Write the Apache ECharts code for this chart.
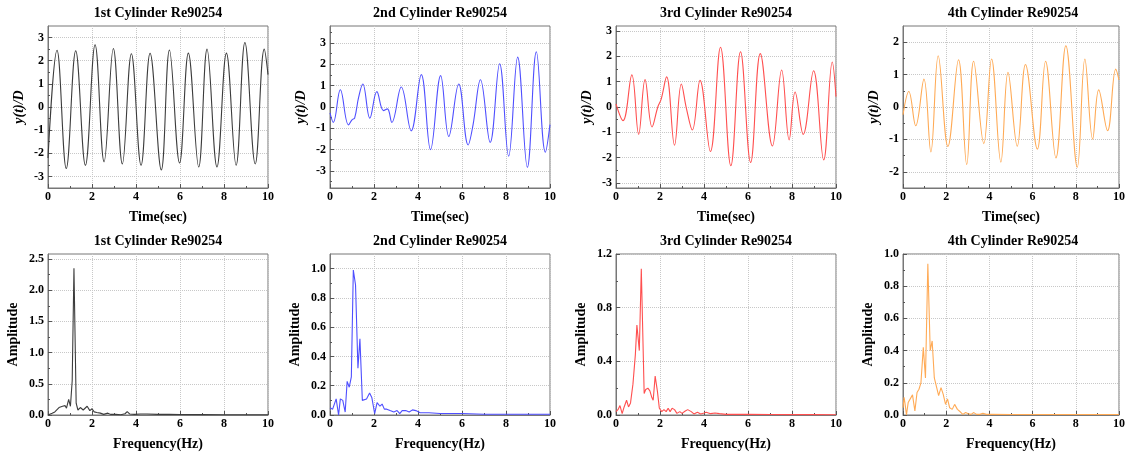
<!DOCTYPE html>
<html>
<head>
<meta charset="utf-8">
<script src="https://cdn.jsdelivr.net/npm/echarts@6/dist/echarts.min.js"></script>
<style>html,body{margin:0;padding:0;background:#fff}#c{width:1128px;height:456px}</style>
</head>
<body>
<div id="c"></div>
<script>
const titles = ['1st Cylinder Re90254', '2nd Cylinder Re90254', '3rd Cylinder Re90254', '4th Cylinder Re90254'];
const xTicks = [0, 2, 4, 6, 8, 10];

// time histories (extrema / shape points)
const t1 = [0, 0.41, 0.83, 1.26, 1.70, 2.14, 2.55, 2.97, 3.38, 3.79, 4.23, 4.64, 5.15, 5.52, 5.98, 6.38, 6.85, 7.23, 7.68, 8.11, 8.55, 8.95, 9.42, 9.83, 10];
const y1 = [-2.2, 2.45, -2.66, 2.43, -2.52, 2.69, -2.37, 2.53, -2.46, 2.30, -2.52, 2.32, -2.72, 2.46, -2.42, 2.33, -2.59, 2.50, -2.59, 2.33, -2.52, 2.79, -2.46, 2.50, 1.4];

const t2 = [0, 0.15, 0.47, 0.84, 1.0, 1.12, 1.3, 1.49, 1.81, 2.13, 2.43, 2.61, 2.81, 3.24, 3.69, 4.15, 4.57, 5.03, 5.40, 5.85, 6.28, 6.5, 6.84, 7.28, 7.71, 8.12, 8.53, 8.97, 9.38, 9.79, 10];
const y2 = [-0.28, -0.72, 0.81, -0.84, -0.6, -0.52, 0.45, 1.08, -0.52, 0.72, -0.17, -0.09, -0.72, 0.94, -1.12, 1.52, -2.0, 1.47, -1.38, 1.08, -1.78, -0.85, 1.28, -1.66, 2.03, -2.31, 2.34, -2.83, 2.59, -2.12, -0.83];

const t3 = [0, 0.32, 0.72, 1.03, 1.32, 1.64, 1.9, 2.05, 2.30, 2.66, 2.97, 3.2, 3.47, 3.82, 4.29, 4.75, 5.22, 5.66, 6.12, 6.56, 7.11, 7.53, 7.87, 8.14, 8.51, 8.98, 9.44, 9.83, 10];
const y3 = [0.12, -0.54, 1.27, -1.08, 1.08, -0.79, 0.0, 0.3, 1.19, -1.51, 0.91, -0.05, -0.91, 1.05, -1.76, 2.36, -2.32, 2.18, -2.19, 2.11, -1.54, 1.46, -1.3, 0.59, -1.08, 1.43, -2.09, 1.78, 0.41];

const t4 = [0, 0.27, 0.59, 0.97, 1.29, 1.63, 2.08, 2.57, 2.95, 3.27, 3.74, 4.10, 4.53, 4.86, 5.29, 5.67, 6.22, 6.60, 7.08, 7.54, 8.07, 8.42, 8.78, 9.06, 9.47, 9.85, 10];
const y4 = [-0.24, 0.48, -0.58, 0.86, -1.39, 1.58, -1.22, 1.46, -1.78, 1.41, -1.13, 1.48, -1.70, 1.07, -1.21, 1.31, -1.30, 1.41, -1.57, 1.89, -1.86, 1.48, -0.99, 0.53, -0.73, 1.17, 0.84];

// amplitude spectra
const f1 = [0, 0.19, 0.31, 0.39, 0.5, 0.66, 0.78, 0.84, 0.94, 1.02, 1.1, 1.18, 1.28, 1.36, 1.47, 1.6, 1.69, 1.78, 1.9, 2.0, 2.1, 2.22, 2.38, 2.53, 2.72, 2.84, 3.08, 3.31, 3.5, 3.6, 3.72, 3.94, 4.2, 4.5, 5.0, 5.5, 6.0, 7.0, 8.0, 9.0, 10];
const a1 = [0.0, 0.03, 0.05, 0.04, 0.12, 0.14, 0.15, 0.11, 0.25, 0.14, 0.55, 2.35, 0.19, 0.08, 0.12, 0.08, 0.05, 0.14, 0.07, 0.1, 0.05, 0.04, 0.03, 0.01, 0.03, 0.01, 0.01, 0.005, 0.02, 0.055, 0.015, 0.01, 0.015, 0.015, 0.01, 0.01, 0.008, 0.006, 0.005, 0.004, 0.003];

const f2 = [0, 0.12, 0.28, 0.39, 0.47, 0.58, 0.69, 0.78, 0.875, 0.97, 1.06, 1.16, 1.27, 1.36, 1.47, 1.56, 1.66, 1.8, 1.9, 2.03, 2.14, 2.27, 2.37, 2.47, 2.58, 2.73, 2.9, 3.05, 3.17, 3.28, 3.44, 3.6, 3.75, 3.9, 4.1, 4.5, 5.0, 6.0, 7.0, 8.0, 9.0, 10];
const a2 = [0.05, 0.04, 0.11, 0.0, 0.11, 0.10, 0.02, 0.23, 0.19, 0.26, 0.99, 0.89, 0.32, 0.52, 0.10, 0.09, 0.11, 0.15, 0.12, 0.01, 0.085, 0.06, 0.075, 0.04, 0.04, 0.03, 0.02, 0.03, 0.01, 0.03, 0.03, 0.02, 0.035, 0.03, 0.015, 0.015, 0.01, 0.01, 0.005, 0.005, 0.005, 0.005];

const f3 = [0, 0.09, 0.18, 0.28, 0.37, 0.48, 0.57, 0.66, 0.77, 0.88, 0.95, 1.06, 1.15, 1.28, 1.35, 1.45, 1.54, 1.63, 1.69, 1.78, 1.88, 1.97, 2.08, 2.18, 2.28, 2.37, 2.46, 2.55, 2.66, 2.77, 2.9, 3.0, 3.15, 3.26, 3.42, 3.54, 3.7, 3.85, 4.0, 4.1, 4.3, 4.5, 4.7, 5.0, 6.0, 7.0, 8.0, 9.0, 10];
const a3 = [0.025, 0.04, 0.07, 0.01, 0.06, 0.11, 0.06, 0.09, 0.23, 0.45, 0.67, 0.48, 1.09, 0.16, 0.19, 0.2, 0.18, 0.13, 0.11, 0.29, 0.18, 0.05, 0.025, 0.04, 0.025, 0.05, 0.025, 0.05, 0.04, 0.012, 0.025, 0.012, 0.03, 0.04, 0.025, 0.008, 0.02, 0.008, 0.015, 0.02, 0.01, 0.015, 0.01, 0.005, 0.005, 0.004, 0.003, 0.003, 0.002];

const f4 = [0, 0.05, 0.11, 0.16, 0.24, 0.33, 0.44, 0.55, 0.65, 0.74, 0.83, 0.94, 1.04, 1.15, 1.26, 1.35, 1.45, 1.54, 1.65, 1.76, 1.86, 1.97, 2.06, 2.16, 2.28, 2.39, 2.52, 2.65, 2.77, 2.9, 3.02, 3.15, 3.28, 3.4, 3.56, 3.7, 3.86, 4.06, 5, 6, 7, 8, 9, 10];
const a4 = [0.045, 0.11, 0.055, 0.0, 0.077, 0.066, 0.125, 0.025, 0.14, 0.16, 0.2, 0.42, 0.23, 0.94, 0.40, 0.46, 0.23, 0.22, 0.12, 0.17, 0.13, 0.066, 0.1, 0.045, 0.035, 0.066, 0.035, 0.02, 0.004, 0.015, 0.008, 0.004, 0.015, 0.004, 0.004, 0.01, 0.004, 0.004, 0.003, 0.003, 0.003, 0.003, 0.003, 0.003];

// axis ranges and tick labels
const yRangeTop = [[-3.5, 3.5], [-3.8, 3.8], [-3.2, 3.2], [-2.5, 2.5]];
const yTicksTop = [[-3, -2, -1, 0, 1, 2, 3], [-3, -2, -1, 0, 1, 2, 3], [-3, -2, -1, 0, 1, 2, 3], [-2, -1, 0, 1, 2]];
const yRangeBot = [[0, 2.58], [0, 1.1], [0, 1.2], [0, 1.0]];
const yTicksBot = [[0, 0.5, 1.0, 1.5, 2.0, 2.5], [0, 0.2, 0.4, 0.6, 0.8, 1.0], [0, 0.4, 0.8, 1.2], [0, 0.2, 0.4, 0.6, 0.8, 1.0]];

const colors = ['#3c3c3c', '#4f4fff', '#ff4f4f', '#ffaa55'];

const timeT = [t1, t2, t3, t4], timeY = [y1, y2, y3, y4];
const freqF = [f1, f2, f3, f4], freqA = [a1, a2, a3, a4];

const FONT = "'Liberation Serif', 'Times New Roman', serif";
const lefts = [48, 330, 616, 903];
const W = 220;
const rows = [{ top: 26, h: 162 }, { top: 254, h: 161 }];

const grid = [], xAxis = [], yAxis = [], series = [], title = [];

function minors(ticks, range) {
  const step = ticks[1] - ticks[0];
  const out = [];
  const first = ticks[0] - step / 2;
  for (let v = first; v <= range[1] + 1e-9; v += step) {
    if (v > range[0] + 1e-9 && v < range[1] - 1e-9 && ticks.indexOf(+v.toFixed(4)) < 0) out.push(+v.toFixed(4));
  }
  return out;
}

for (let r = 0; r < 2; r++) {
  for (let c = 0; c < 4; c++) {
    const i = r * 4 + c;
    grid.push({ left: lefts[c], top: rows[r].top, width: W, height: rows[r].h, show: true, borderColor: '#777', borderWidth: 1, backgroundColor: 'transparent' });
    title.push({
      text: titles[c], left: lefts[c] + W / 2, top: rows[r].top - 20, textAlign: 'center', padding: 0,
      textStyle: { fontFamily: FONT, fontWeight: 'bold', fontSize: 14, color: '#000' }
    });
    xAxis.push({
      type: 'value', gridIndex: i, min: 0, max: 10, interval: 2,
      name: r === 0 ? 'Time(sec)' : 'Frequency(Hz)', nameLocation: 'middle', nameGap: 22,
      nameTextStyle: { fontFamily: FONT, fontWeight: 'bold', fontSize: 14, color: '#000' },
      axisLine: { show: true, onZero: false, lineStyle: { color: '#777', width: 1 } },
      axisTick: { show: true, inside: true, length: 4, lineStyle: { color: '#555' } },
      minorTick: { show: true, splitNumber: 2, length: 2, lineStyle: { color: '#555' } },
      axisLabel: { fontFamily: FONT, fontWeight: 'bold', fontSize: 12, color: '#000', margin: 3 },
      splitLine: { show: true, lineStyle: { type: 'dotted', color: '#c8c8c8', width: 1 } }
    });
    const range = r === 0 ? yRangeTop[c] : yRangeBot[c];
    const ticks = r === 0 ? yTicksTop[c] : yTicksBot[c];
    yAxis.push({
      type: 'value', gridIndex: i, min: range[0], max: range[1], position: 'left',
      name: r === 0 ? 'y(t)/D' : 'Amplitude', nameLocation: 'middle', nameGap: r === 0 ? 22 : 28,
      nameTextStyle: { fontFamily: FONT, fontWeight: 'bold', fontStyle: r === 0 ? 'italic' : 'normal', fontSize: 14, color: '#000' },
      axisLine: { show: true, onZero: false, lineStyle: { color: '#777', width: 1 } },
      axisTick: { show: true, inside: true, length: 4, customValues: ticks, lineStyle: { color: '#555' } },
      axisLabel: {
        customValues: ticks, fontFamily: FONT, fontWeight: 'bold', fontSize: 12, color: '#000', margin: 4,
        formatter: r === 0 ? (v => String(v)) : (v => v.toFixed(1))
      },
      splitLine: { show: true, lineStyle: { type: 'dotted', color: '#c8c8c8', width: 1 } }
    });
    const xs = r === 0 ? timeT[c] : freqF[c];
    const ys = r === 0 ? timeY[c] : freqA[c];
    series.push({
      type: 'line', xAxisIndex: i, yAxisIndex: i, showSymbol: false, symbol: 'none',
      smooth: r === 0 ? 0.4 : false, silent: true, animation: false,
      lineStyle: { color: colors[c], width: 1.1 },
      data: xs.map((x, k) => [x, ys[k]])
    });
  }
}
// minor tick overlay axes
for (let r = 0; r < 2; r++) {
  for (let c = 0; c < 4; c++) {
    const i = r * 4 + c;
    const range = r === 0 ? yRangeTop[c] : yRangeBot[c];
    const ticks = r === 0 ? yTicksTop[c] : yTicksBot[c];
    yAxis.push({
      type: 'value', gridIndex: i, min: range[0], max: range[1], position: 'left',
      axisLine: { show: false }, axisLabel: { show: false }, splitLine: { show: false },
      axisTick: { show: true, inside: true, length: 2, customValues: minors(ticks, range), lineStyle: { color: '#555' } }
    });
  }
}

const chart = echarts.init(document.getElementById('c'), null, { renderer: 'canvas' });
chart.setOption({ animation: false, backgroundColor: '#fff', title, grid, xAxis, yAxis, series });
</script>
</body>
</html>
